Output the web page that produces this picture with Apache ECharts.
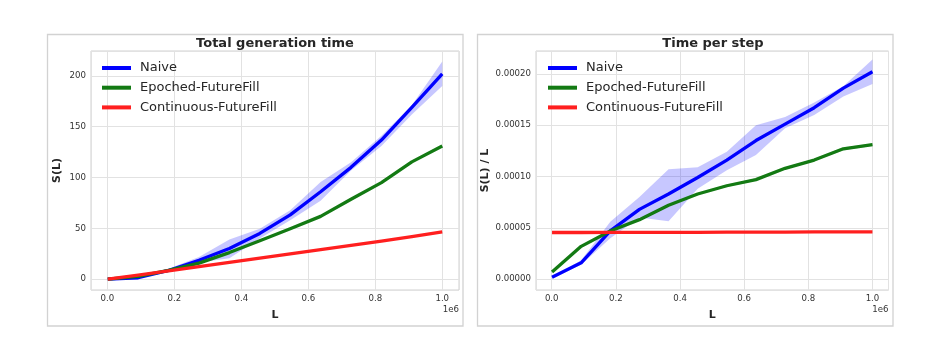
<!DOCTYPE html>
<html>
<head>
<meta charset="utf-8">
<script src="https://cdn.jsdelivr.net/npm/echarts@6/dist/echarts.min.js"></script>
<style>
  html, body { margin: 0; padding: 0; background: #ffffff; }
  #chart { width: 926px; height: 346px; }
</style>
</head>
<body>
<div id="chart"></div>
<script>
// Sequence lengths L
const lengths = [1000, 91818, 182636, 273455, 364273, 455091, 545909, 636727, 727545, 818364, 909182, 1000000];

// Total generation time S(L)
const naiveTotal      = [0.002, 1.45, 8.6, 18.6, 30.2, 45.0, 63.3, 86.0, 110.0, 136.8, 169.0, 202.0];
const naiveTotalHi    = [0.002, 1.7, 10.2, 21.8, 39.0, 49.6, 67.7, 95.5, 115.0, 141.0, 171.0, 214.0];
const naiveTotalLo    = [0.002, 1.3, 7.3, 16.4, 20.5, 40.0, 57.9, 77.1, 107.0, 131.0, 162.0, 190.0];
const epochedTotal    = [0.007, 2.9, 8.6, 15.8, 26.2, 37.8, 49.7, 61.8, 78.6, 95.0, 115.4, 131.0];
const continuousTotal = [0.045, 4.1, 8.3, 12.4, 16.6, 20.7, 24.9, 29.0, 33.2, 37.5, 41.8, 46.6];

// Time per step S(L) / L
const naiveStep      = [0.0000020, 0.0000160, 0.0000470, 0.0000680, 0.0000830, 0.0000990, 0.0001160, 0.0001350, 0.0001510, 0.0001670, 0.0001860, 0.0002020];
const naiveStepHi    = [0.0000022, 0.0000185, 0.0000560, 0.0000800, 0.0001070, 0.0001090, 0.0001240, 0.0001500, 0.0001580, 0.0001720, 0.0001880, 0.0002140];
const naiveStepLo    = [0.0000018, 0.0000140, 0.0000400, 0.0000600, 0.0000564, 0.0000880, 0.0001060, 0.0001210, 0.0001470, 0.0001600, 0.0001780, 0.0001900];
const epochedStep    = [0.0000070, 0.0000320, 0.0000470, 0.0000580, 0.0000720, 0.0000830, 0.0000910, 0.0000970, 0.0001080, 0.0001160, 0.0001270, 0.0001310];
const epochedStepHi  = [0.0000072, 0.0000325, 0.0000476, 0.0000588, 0.0000730, 0.0000840, 0.0000921, 0.0000982, 0.0001092, 0.0001172, 0.0001285, 0.0001322];
const epochedStepLo  = [0.0000068, 0.0000315, 0.0000464, 0.0000572, 0.0000710, 0.0000820, 0.0000899, 0.0000958, 0.0001068, 0.0001148, 0.0001255, 0.0001298];
const continuousStep = [0.0000455, 0.0000455, 0.0000456, 0.0000457, 0.0000457, 0.0000457, 0.0000458, 0.0000458, 0.0000459, 0.0000460, 0.0000460, 0.0000461];

const seriesNames = ['Naive', 'Epoched-FutureFill', 'Continuous-FutureFill'];
const seriesColors = ['#0000ff', '#137a13', '#ff1f1f'];

const FONT = 'DejaVu Sans';
const TEXT = '#262626';
const GRID_LINE = '#e2e2e2';

function lineSeries(name, color, values, axisIndex, z) {
  return {
    type: 'line', name: name,
    xAxisIndex: axisIndex, yAxisIndex: axisIndex,
    data: lengths.map((x, i) => [x, values[i]]),
    showSymbol: false, symbol: 'none',
    lineStyle: { color: color, width: 3.3, cap: 'butt', join: 'round' },
    itemStyle: { color: color },
    z: z, silent: true, animation: false
  };
}

// Shaded spread between lower and upper bounds, drawn as one polygon
function bandSeries(lower, upper, fill, axisIndex, z) {
  return {
    type: 'custom',
    xAxisIndex: axisIndex, yAxisIndex: axisIndex,
    data: lengths.map((x, i) => [x, lower[i], upper[i]]),
    encode: { x: 0, y: [1, 2] },
    renderItem: function (params, api) {
      if (params.dataIndex !== 0) return null;
      const pts = [];
      for (let i = 0; i < lengths.length; i++) pts.push(api.coord([lengths[i], upper[i]]));
      for (let i = lengths.length - 1; i >= 0; i--) pts.push(api.coord([lengths[i], lower[i]]));
      return { type: 'polygon', shape: { points: pts }, style: { fill: fill }, silent: true };
    },
    z: z, silent: true, animation: false
  };
}

function xAxisCfg(gridIndex) {
  return {
    type: 'value', gridIndex: gridIndex,
    min: -49000, max: 1050000,
    name: 'L', nameLocation: 'middle', nameGap: 20,
    nameTextStyle: { fontFamily: FONT, fontSize: 11, fontWeight: 'bold', color: TEXT },
    axisLine: { show: false }, axisTick: { show: false },
    axisLabel: {
      margin: 4, fontFamily: FONT, fontSize: 8.6, color: '#333333',
      showMinLabel: false, showMaxLabel: false,
      formatter: v => (v / 1e6).toFixed(1)
    },
    splitLine: { show: true, lineStyle: { color: GRID_LINE, width: 1 } }
  };
}

function yAxisCfg(gridIndex, min, max, name, gap, digits) {
  return {
    type: 'value', gridIndex: gridIndex,
    min: min, max: max,
    name: name, nameLocation: 'middle', nameGap: gap,
    nameTextStyle: { fontFamily: FONT, fontSize: 11, fontWeight: 'bold', color: TEXT },
    axisLine: { show: false }, axisTick: { show: false },
    axisLabel: {
      margin: 5, fontFamily: FONT, fontSize: 8.6, color: '#333333',
      showMinLabel: false, showMaxLabel: false,
      formatter: v => v.toFixed(digits)
    },
    splitLine: { show: true, lineStyle: { color: GRID_LINE, width: 1 } }
  };
}

function legendCfg(left) {
  return {
    left: left, top: 61.5, orient: 'vertical', padding: 0,
    itemWidth: 29, itemHeight: 4, itemGap: 6.7,
    icon: 'rect',
    data: seriesNames.map((n, i) => ({ name: n, itemStyle: { color: seriesColors[i] } })),
    textStyle: { fontFamily: FONT, fontSize: 13, color: TEXT, padding: [0, 0, 0, 4] },
    selectedMode: false
  };
}

const chart = echarts.init(document.getElementById('chart'), null, { renderer: 'canvas' });

chart.setOption({
  animation: false,
  backgroundColor: '#ffffff',
  grid: [
    { left: 91, top: 51, width: 368, height: 239, show: true, borderColor: '#d0d0d0', borderWidth: 1, backgroundColor: 'transparent' },
    { left: 536, top: 51, width: 352.5, height: 239, show: true, borderColor: '#d0d0d0', borderWidth: 1, backgroundColor: 'transparent' }
  ],
  xAxis: [xAxisCfg(0), xAxisCfg(1)],
  yAxis: [
    yAxisCfg(0, -10.6, 224.4, 'S(L)', 28.5, 0),
    yAxisCfg(1, -0.0000105, 0.0002222, 'S(L) / L', 45.5, 5)
  ],
  legend: [legendCfg(102), legendCfg(548)],
  graphic: [
    { type: 'rect', shape: { x: 47.5, y: 34.5, width: 415.5, height: 291.5 }, style: { fill: 'none', stroke: '#d2d2d2', lineWidth: 1.3 }, silent: true },
    { type: 'rect', shape: { x: 477.5, y: 34.5, width: 415.5, height: 291.5 }, style: { fill: 'none', stroke: '#d2d2d2', lineWidth: 1.3 }, silent: true },
    { type: 'text', x: 275, y: 43.5, style: { text: 'Total generation time', font: 'bold 13px "DejaVu Sans"', fill: TEXT, align: 'center', verticalAlign: 'middle' } },
    { type: 'text', x: 713, y: 43.5, style: { text: 'Time per step', font: 'bold 13px "DejaVu Sans"', fill: TEXT, align: 'center', verticalAlign: 'middle' } },
    { type: 'text', x: 459, y: 309.5, style: { text: '1e6', font: '8.6px "DejaVu Sans"', fill: '#333333', align: 'right', verticalAlign: 'middle' } },
    { type: 'text', x: 888.5, y: 309.5, style: { text: '1e6', font: '8.6px "DejaVu Sans"', fill: '#333333', align: 'right', verticalAlign: 'middle' } }
  ],
  series: [
    lineSeries('Naive', seriesColors[0], naiveTotal, 0, 3),
    bandSeries(naiveTotalLo, naiveTotalHi, 'rgba(0,0,255,0.22)', 0, 2),
    lineSeries('Epoched-FutureFill', seriesColors[1], epochedTotal, 0, 4),
    lineSeries('Continuous-FutureFill', seriesColors[2], continuousTotal, 0, 5),

    lineSeries('Naive', seriesColors[0], naiveStep, 1, 3),
    bandSeries(naiveStepLo, naiveStepHi, 'rgba(0,0,255,0.22)', 1, 2),
    lineSeries('Epoched-FutureFill', seriesColors[1], epochedStep, 1, 4),
    bandSeries(epochedStepLo, epochedStepHi, 'rgba(0,128,0,0.2)', 1, 2),
    lineSeries('Continuous-FutureFill', seriesColors[2], continuousStep, 1, 5)
  ]
});
</script>
</body>
</html>
